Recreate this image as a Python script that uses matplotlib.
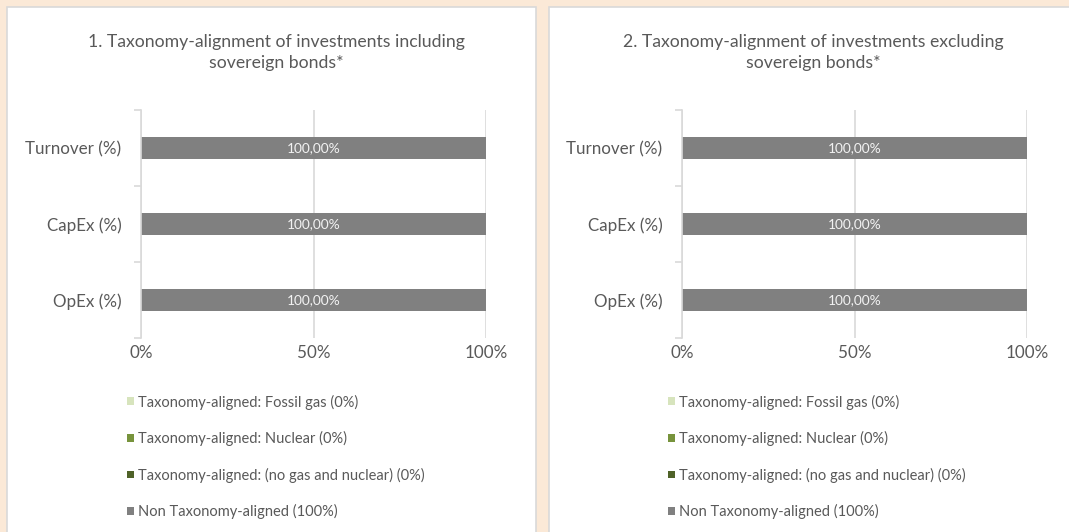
import numpy as np
import matplotlib
matplotlib.use('Agg')
import matplotlib.pyplot as plt
import matplotlib.patches as patches

plt.rcParams['font.family'] = ['Lato', 'DejaVu Sans']

# Data
categories = ['Turnover (%)', 'CapEx (%)', 'OpEx (%)']
series_names = ['Taxonomy-aligned: Fossil gas (0%)',
                'Taxonomy-aligned: Nuclear (0%)',
                'Taxonomy-aligned: (no gas and nuclear) (0%)',
                'Non Taxonomy-aligned (100%)']
incl_fossil_gas = [0, 0, 0]
incl_nuclear = [0, 0, 0]
incl_no_gas_nuclear = [0, 0, 0]
incl_non_aligned = [100, 100, 100]
excl_fossil_gas = [0, 0, 0]
excl_nuclear = [0, 0, 0]
excl_no_gas_nuclear = [0, 0, 0]
excl_non_aligned = [100, 100, 100]
titles = [['1. Taxonomy-alignment of investments including', 'sovereign bonds*'],
          ['2. Taxonomy-alignment of investments excluding', 'sovereign bonds*']]
x_ticks = [0, 50, 100]
x_tick_labels = ['0%', '50%', '100%']

colors = ['#D7E4BD', '#77933C', '#4F6228', '#808080']
text_col = '#595959'
grid_col = '#D9D9D9'

W, H = 1069, 532
fig = plt.figure(figsize=(W / 100, H / 100), dpi=100)
fig.patch.set_facecolor('#FBE9D7')
renderer = fig.canvas.get_renderer()


def fit_size(s, target_px, base=10.0):
    # font size that makes string s about target_px wide
    t = fig.text(0, 0, s, fontsize=base)
    w = t.get_window_extent(renderer=renderer).width
    t.remove()
    return base * target_px / w


fs_title = fit_size(titles[0][0], 376)
fs_tick = fit_size('Turnover (%)', 96)
fs_legend = fit_size(series_names[0], 220)
fs_bar = fit_size('100,00%', 54)
leg_px = fs_legend * 100 / 72

# white panels
for x0, x1 in [(7, 536), (549, 1075)]:
    fig.patches.append(patches.Rectangle((x0 / W, -0.02), (x1 - x0) / W, (H - 7) / H + 0.02,
                                         transform=fig.transFigure, facecolor='white',
                                         edgecolor=grid_col, lw=1.2, zorder=-1))


def draw_panel(left_px, title, title_x, series):
    ax = fig.add_axes([left_px / W, 1 - 338 / H, 345 / W, 228 / H])
    ax.set_facecolor('none')
    y = np.arange(len(categories))
    left = np.zeros(len(categories))
    bars = []
    for vals, c, name in zip(series, colors, series_names):
        b = ax.barh(y, vals, left=left, height=0.29, color=c, label=name, zorder=2)
        bars.append(b)
        left = left + np.array(vals)
    # data labels on the non-aligned bars
    for yi, v, l in zip(y, series[-1], left - np.array(series[-1])):
        ax.text(l + v / 2, yi, f'{v:.2f}%'.replace('.', ','), ha='center', va='center',
                color='#F2F2F2', fontsize=fs_bar, zorder=3)
    ax.set_xlim(0, 100)
    ax.set_ylim(2.5, -0.5)
    ax.set_xticks(x_ticks)
    ax.set_xticklabels(x_tick_labels)
    ax.set_yticks([-0.5, 0.5, 1.5, 2.5])
    ax.set_yticklabels([])
    ax.set_yticks(y, minor=True)
    ax.set_yticklabels(categories, minor=True)
    ax.tick_params(axis='y', which='major', length=5, color=grid_col, width=1.2)
    ax.tick_params(axis='y', which='minor', length=0, pad=14, labelsize=fs_tick, labelcolor=text_col)
    ax.tick_params(axis='x', length=0, pad=5, labelsize=fs_tick, labelcolor=text_col)
    ax.grid(axis='x', color=grid_col, lw=1.2, zorder=0)
    ax.set_axisbelow(True)
    for s in ['top', 'right', 'bottom']:
        ax.spines[s].set_visible(False)
    ax.spines['left'].set_color(grid_col)
    ax.spines['left'].set_linewidth(1.2)
    fig.text(title_x / W, 1 - 46.5 / H, title[0], ha='center', va='baseline',
             fontsize=fs_title, color=text_col)
    fig.text(title_x / W, 1 - 68 / H, title[1], ha='center', va='baseline',
             fontsize=fs_title, color=text_col)
    fig.legend(handles=bars, labels=series_names, loc='upper left',
               bbox_to_anchor=((left_px - 14) / W, 1 - 394.5 / H), frameon=False,
               fontsize=fs_legend, labelcolor=text_col, handlelength=0.45, handleheight=0.45,
               handletextpad=0.3, labelspacing=(35.5 - 0.95 * leg_px) / leg_px,
               borderpad=0, borderaxespad=0)


draw_panel(141, titles[0], 276,
           [incl_fossil_gas, incl_nuclear, incl_no_gas_nuclear, incl_non_aligned])
draw_panel(682, titles[1], 813,
           [excl_fossil_gas, excl_nuclear, excl_no_gas_nuclear, excl_non_aligned])

fig.savefig('out.png', dpi=100, facecolor=fig.get_facecolor())
